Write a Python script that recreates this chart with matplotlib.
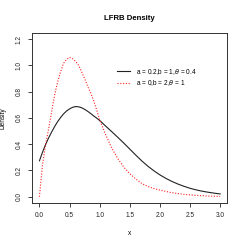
import numpy as np
import matplotlib
matplotlib.use("Agg")
import matplotlib.pyplot as plt

plt.rcParams['font.family'] = ['Liberation Sans', 'DejaVu Sans']

# Valores (densidad LFRB)
x_black = [0.0, 0.05, 0.1, 0.15, 0.2, 0.25, 0.3, 0.35, 0.4, 0.45, 0.5, 0.55, 0.6,
           0.65, 0.7, 0.75, 0.8, 0.85, 0.9, 0.95, 1.0,
           1.1, 1.2, 1.3, 1.4, 1.5, 1.6, 1.7, 1.8, 1.9, 2.0,
           2.1, 2.2, 2.3, 2.4, 2.5, 2.6, 2.7, 2.8, 2.9, 3.0]
y_black = [0.273, 0.337, 0.395, 0.445, 0.49, 0.532, 0.57, 0.602, 0.63, 0.652, 0.668, 0.68, 0.686,
           0.684, 0.677, 0.665, 0.65, 0.633, 0.615, 0.598, 0.58,
           0.537, 0.495, 0.452, 0.408, 0.362, 0.316, 0.272, 0.232, 0.197, 0.166,
           0.139, 0.116, 0.096, 0.079, 0.064, 0.052, 0.042, 0.034, 0.027, 0.021]

x_red = [0.0, 0.05, 0.1, 0.15, 0.2, 0.25, 0.3, 0.35, 0.4, 0.45, 0.5, 0.55, 0.6,
         0.65, 0.7, 0.75, 0.8, 0.85, 0.9, 0.95, 1.0, 1.1, 1.2, 1.3, 1.4, 1.5, 1.6,
         1.7, 1.8, 1.9, 2.0, 2.2, 2.4, 2.6, 2.8, 3.0]
y_red = [0.0, 0.24, 0.39, 0.51, 0.64, 0.77, 0.87, 0.95, 1.015, 1.045, 1.06, 1.05, 1.03,
         1.0, 0.95, 0.90, 0.84, 0.79, 0.73, 0.66, 0.585, 0.47, 0.37, 0.29, 0.225, 0.175, 0.135,
         0.10, 0.078, 0.062, 0.05, 0.03, 0.018, 0.01, 0.005, 0.002]

labels = [r'a = 0.2,b = 1,$\theta$ = 0.4', r'a = 0,b = 2,$\theta$ = 1']
xticks = [0.0, 0.5, 1.0, 1.5, 2.0, 2.5, 3.0]
yticks = [0.0, 0.2, 0.4, 0.6, 0.8, 1.0, 1.2]

fig = plt.figure(figsize=(2.44, 2.44), dpi=100)
ax = fig.add_axes([0.132, 0.168, 0.800, 0.698])

ax.plot(x_black, y_black, color='#222222', lw=0.8, label=labels[0])
ax.plot(x_red, y_red, color='#ff2020', lw=0.8, linestyle=(0, (1, 1.5)), label=labels[1])

ax.set_xlim(-0.12, 3.12)
ax.set_ylim(-0.048, 1.248)
ax.set_xticks(xticks)
ax.set_xticklabels([f'{v:.1f}' for v in xticks])
ax.set_yticks(yticks)
ax.set_yticklabels([f'{v:.1f}' for v in yticks], rotation=90, va='center')
ax.tick_params(labelsize=4.7, length=2.9, width=0.6, pad=3.8, colors='#222222')

for s in ax.spines.values():
    s.set_linewidth(0.7)
    s.set_color('#333333')

ax.set_xlabel('x', fontsize=4.7, labelpad=8)
ax.set_ylabel('Density', fontsize=4.7, labelpad=7)
ax.set_title('LFRB Density', fontsize=5.6, fontweight='bold', pad=9.5)

ax.legend(loc='upper left', bbox_to_anchor=(0.481, 0.727), bbox_transform=fig.transFigure,
          frameon=False, fontsize=4.7, handlelength=1.95, handletextpad=0.9,
          labelspacing=0.25, borderpad=0, borderaxespad=0)

fig.savefig('out.png', dpi=100)
